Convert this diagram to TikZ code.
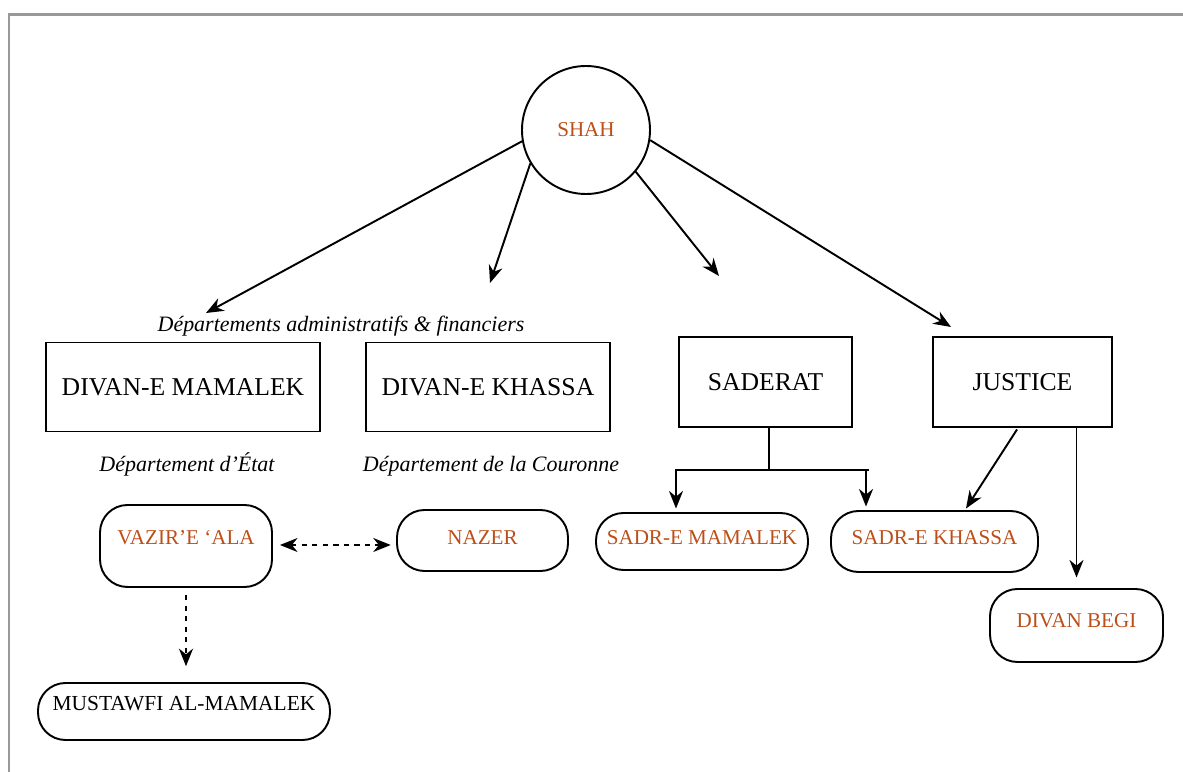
\documentclass[tikz,border=0pt]{standalone}
\usepackage{fontspec}
\setmainfont{Liberation Serif}
\usepackage{xcolor}
\usetikzlibrary{arrows, arrows.meta}

\definecolor{titlebrown}{RGB}{188,78,24}

\tikzset{
  office/.style={draw, line width=1.1pt, inner sep=0pt, font=\fontsize{14.6}{16}\selectfont},
  post/.style={draw, line width=1.1pt, rounded corners=0.55cm, inner sep=0pt, text height=8pt, text depth=#1, font=\fontsize{12}{14}\selectfont},
  dept/.style={font=\fontsize{12.5}{14}\selectfont\itshape},
  link/.style={line width=1.1pt, -{Stealth[length=10pt,width=8pt]}},
  duallink/.style={line width=1.1pt, dashed, {Stealth[length=10pt,width=8pt]}-{Stealth[length=10pt,width=8pt]}},
}

\begin{document}
\begin{tikzpicture}
\useasboundingbox (0,0) rectangle (23.66,15.44);

\draw[gray!80, line width=1.7pt] (0.18,0) -- (0.18,15.15) -- (23.66,15.15); %frame

\node[circle, draw, line width=1.1pt, minimum size=2.56cm, inner sep=0pt, text=titlebrown, font=\fontsize{12}{14}\selectfont] (shah) at (11.72,12.84) {SHAH};

% free ends of the arrows from the shah
\coordinate (toadmin) at (4.12,9.18);
\coordinate (tokhassa) at (9.80,9.78);
\coordinate (tosaderat) at (14.38,9.92);
\coordinate (tojustice) at (19.02,8.90);

\draw[link] (shah.190) -- (toadmin);
\draw[link] (shah.211) -- (tokhassa);
\draw[link] (shah.320) -- (tosaderat);
\draw[link] (shah.351) -- (tojustice);

\node[dept] (admin) at (6.82,8.92) {Départements administratifs \& financiers};

\node[office, minimum width=5.48cm, minimum height=1.78cm] (dmamalek) at (3.66,7.70) {DIVAN-E MAMALEK};
\node[office, minimum width=4.88cm, minimum height=1.78cm] (dkhassa) at (9.76,7.70) {DIVAN-E KHASSA};
\node[office, minimum width=3.46cm, minimum height=1.80cm] (saderat) at (15.31,7.80) {SADERAT};
\node[office, minimum width=3.58cm, minimum height=1.80cm] (justice) at (20.45,7.80) {JUSTICE};

\node[dept] (etat) at (3.74,6.16) {Département d’État};
\node[dept] (couronne) at (9.82,6.12) {Département de la Couronne};

\node[post=10pt, text=titlebrown, minimum width=3.44cm, minimum height=1.64cm] (vazir) at (3.72,4.52) {VAZIR’E ‘ALA};
\node[post=4pt, text=titlebrown, minimum width=3.42cm, minimum height=1.22cm] (nazer) at (9.65,4.63) {NAZER};
\node[post=9.6pt, font=\fontsize{12.2}{14}\selectfont, minimum width=5.84cm, minimum height=1.14cm] (mustawfi) at (3.68,1.21) {MUSTAWFI AL-MAMALEK};
\node[post=5pt, text=titlebrown, minimum width=4.24cm, minimum height=1.14cm] (sadrmamalek) at (14.04,4.61) {SADR-E MAMALEK};
\node[post=5pt, text=titlebrown, minimum width=4.14cm, minimum height=1.22cm] (sadrkhassa) at (18.69,4.61) {SADR-E KHASSA};
\node[post=6.2pt, text=titlebrown, minimum width=3.46cm, minimum height=1.46cm] (divanbegi) at (21.53,2.93) {DIVAN BEGI};

% dashed links of the state department
\draw[duallink, shorten <=4pt, shorten >=3pt] ([yshift=0.02cm]vazir.east) -- ([yshift=0.02cm]vazir.east -| nazer.west);
\draw[link, dashed, shorten <=4pt, shorten >=9pt] (vazir.south) -- (vazir.south |- mustawfi.north);

% saderat fork
\draw[line width=1.1pt] ([xshift=0.07cm]saderat.south) -- ++(0,-0.84) coordinate (fork);
\draw[line width=1.1pt] ([xshift=-0.52cm]sadrmamalek.north |- fork) -- ([xshift=2.0cm]fork);
\draw[link, shorten >=2pt] (fork) -| ([xshift=-0.52cm]sadrmamalek.north);
\draw[link, shorten >=2pt] (fork) -| ([xshift=-1.37cm]sadrkhassa.north);

% justice
\draw[link, shorten <=1pt, shorten >=1pt] ([xshift=-0.09cm]justice.south) -- ([xshift=0.61cm]sadrkhassa.north);
\draw[link, shorten >=6pt] (justice.south -| divanbegi.north) -- (divanbegi.north);

\end{tikzpicture}
\end{document}
